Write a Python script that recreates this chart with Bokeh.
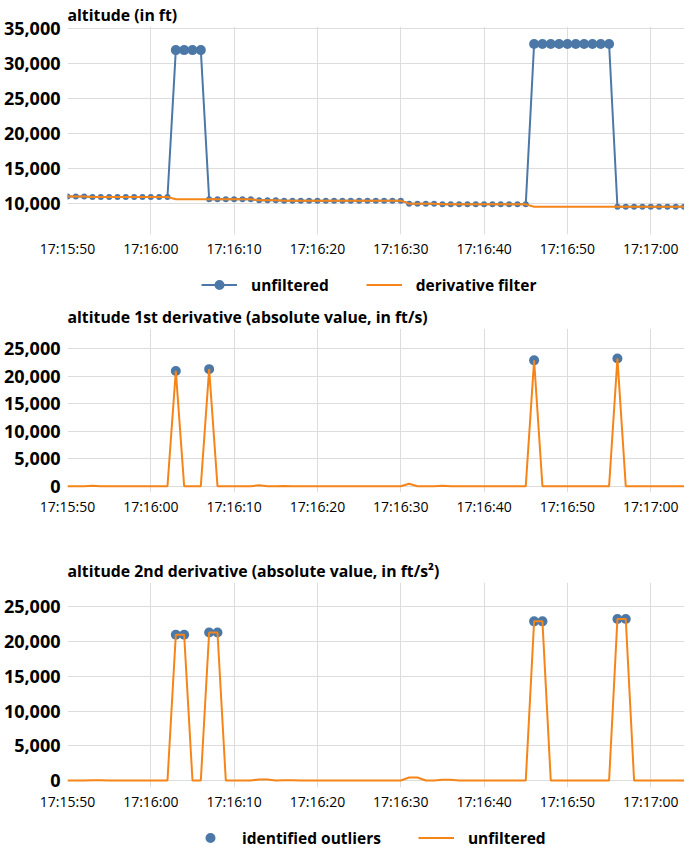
import pandas as pd
from bokeh.plotting import figure
from bokeh.layouts import column
from bokeh.models import (Legend, LegendItem, FixedTicker, NumeralTickFormatter,
                          DatetimeTickFormatter, Range1d, ColumnDataSource)
from bokeh.embed import file_html
from bokeh.resources import INLINE

# ---------------- data ----------------
start_time = "2021-06-01 17:15:50"
n_samples = 75  # one sample per second

altitude_unfiltered = [
    10960, 10960, 10960, 10900, 10900, 10900, 10900, 10900, 10900, 10900,
    10900, 10900, 10900, 31880, 31880, 31880, 31880, 10580, 10580, 10580,
    10580, 10580, 10580, 10420, 10420, 10420, 10380, 10380, 10380, 10380,
    10380, 10380, 10380, 10380, 10380, 10380, 10380, 10380, 10380, 10380,
    10380, 9950, 9950, 9950, 9950, 9850, 9850, 9850, 9850, 9850,
    9850, 9850, 9850, 9850, 9850, 9850, 32750, 32750, 32750, 32750,
    32750, 32750, 32750, 32750, 32750, 32750, 9500, 9500, 9500, 9500,
    9500, 9500, 9500, 9500, 9500,
]

altitude_derivative_filter = [
    10960, 10960, 10960, 10900, 10900, 10900, 10900, 10900, 10900, 10900,
    10900, 10900, 10900, 10580, 10580, 10580, 10580, 10580, 10580, 10580,
    10580, 10580, 10580, 10420, 10420, 10420, 10380, 10380, 10380, 10380,
    10380, 10380, 10380, 10380, 10380, 10380, 10380, 10380, 10380, 10380,
    10380, 9950, 9950, 9950, 9950, 9850, 9850, 9850, 9850, 9850,
    9850, 9850, 9850, 9850, 9850, 9850, 9500, 9500, 9500, 9500,
    9500, 9500, 9500, 9500, 9500, 9500, 9500, 9500, 9500, 9500,
    9500, 9500, 9500, 9500, 9500,
]

first_derivative = [
    0, 0, 0, 60, 0, 0, 0, 0, 0, 0,
    0, 0, 0, 20980, 0, 0, 0, 21300, 0, 0,
    0, 0, 0, 160, 0, 0, 40, 0, 0, 0,
    0, 0, 0, 0, 0, 0, 0, 0, 0, 0,
    0, 430, 0, 0, 0, 100, 0, 0, 0, 0,
    0, 0, 0, 0, 0, 0, 22900, 0, 0, 0,
    0, 0, 0, 0, 0, 0, 23250, 0, 0, 0,
    0, 0, 0, 0, 0,
]

second_derivative = [
    0, 0, 0, 60, 60, 0, 0, 0, 0, 0,
    0, 0, 0, 20980, 20980, 0, 0, 21300, 21300, 0,
    0, 0, 0, 160, 160, 0, 40, 40, 0, 0,
    0, 0, 0, 0, 0, 0, 0, 0, 0, 0,
    0, 430, 430, 0, 0, 100, 100, 0, 0, 0,
    0, 0, 0, 0, 0, 0, 22900, 22900, 0, 0,
    0, 0, 0, 0, 0, 0, 23250, 23250, 0, 0,
    0, 0, 0, 0, 0,
]

altitude_outlier_idx = [13, 14, 15, 16, 56, 57, 58, 59, 60, 61, 62, 63, 64, 65]
first_outlier_idx = [13, 17, 56, 66]
second_outlier_idx = [13, 14, 17, 18, 56, 57, 66, 67]

tick_labels = ["17:15:50", "17:16:00", "17:16:10", "17:16:20", "17:16:30",
               "17:16:40", "17:16:50", "17:17:00"]

# ---------------- helpers ----------------
BLUE = "#4c78a8"
ORANGE = "#f58518"
FONT = "Open Sans"
NAN = float("nan")

times = pd.date_range(start_time, periods=n_samples, freq="s")
day = start_time.split(" ")[0]
tick_ms = [pd.Timestamp(day + " " + t).value / 1e6 for t in tick_labels]
x_start = pd.Timestamp(start_time)
x_end = x_start + pd.Timedelta(seconds=74.05)


def subset(idx, values):
    return ColumnDataSource(dict(t=[times[i] for i in idx], v=[values[i] for i in idx]))


def make_fig(title, y0, y1, yticks, frame_h, top, bottom):
    p = figure(frame_width=617, frame_height=frame_h, x_axis_type="datetime",
               x_range=Range1d(x_start, x_end), y_range=Range1d(y0, y1),
               output_backend="svg", toolbar_location=None,
               min_border_left=60, min_border_right=0,
               min_border_top=top, min_border_bottom=bottom)
    p.title.text = title
    p.title.text_font = FONT
    p.title.text_font_size = "15.8px"
    p.title.text_font_style = "bold"
    p.title.text_color = "#000000"
    p.title.align = "left"
    p.title.offset = 0
    p.title.standoff = 2
    p.outline_line_color = None
    p.background_fill_color = "white"

    p.xaxis.ticker = FixedTicker(ticks=tick_ms)
    p.xaxis.formatter = DatetimeTickFormatter(
        seconds="%H:%M:%S", minsec="%H:%M:%S", minutes="%H:%M:%S",
        hourmin="%H:%M:%S", hours="%H:%M:%S", context=None)
    p.yaxis.ticker = FixedTicker(ticks=yticks)
    p.yaxis.formatter = NumeralTickFormatter(format="0,0")

    for ax in (p.xaxis, p.yaxis):
        ax.axis_line_color = None
        ax.major_tick_line_color = None
        ax.minor_tick_line_color = None
        ax.major_tick_out = 0
        ax.major_tick_in = 0
        ax.minor_tick_out = 0
        ax.major_label_text_font = FONT
        ax.major_label_text_color = "#000000"
    p.xaxis.major_label_text_font_size = "14px"
    p.xaxis.major_label_standoff = 4
    p.yaxis.major_label_text_font_size = "18px"
    p.yaxis.major_label_text_font_style = "bold"
    p.yaxis.major_label_standoff = 7

    p.xgrid.grid_line_color = "#dddddd"
    p.ygrid.grid_line_color = "#dddddd"
    return p


def make_legend_fig(entries, loc, height):
    """A strip holding a horizontal legend below a chart."""
    f = figure(frame_width=677, frame_height=height, x_range=Range1d(0, 1),
               y_range=Range1d(0, 1), output_backend="svg", toolbar_location=None,
               x_axis_location=None, y_axis_location=None,
               min_border_left=0, min_border_right=0, min_border_top=0, min_border_bottom=0)
    f.grid.visible = False
    f.outline_line_color = None
    items = []
    for label, kinds, color in entries:
        rs = []
        # legend-only renderers: a single undefined point, nothing drawn in the strip
        dummy = ColumnDataSource(dict(x=[NAN], y=[NAN]))
        if "line" in kinds:
            rs.append(f.line("x", "y", source=dummy, color=color, line_width=2))
        if "dot" in kinds:
            rs.append(f.scatter("x", "y", source=dummy, color=color, line_color=None, size=10))
        items.append(LegendItem(label=label, renderers=rs))
    lg = Legend(items=items, orientation="horizontal", location=loc)
    lg.border_line_color = None
    lg.background_fill_alpha = 0
    lg.label_text_font = FONT
    lg.label_text_font_size = "15.5px"
    lg.label_text_font_style = "bold"
    lg.label_text_color = "#000000"
    lg.glyph_width = 36
    lg.glyph_height = 25
    lg.label_standoff = 14
    lg.spacing = 37
    lg.padding = 0
    lg.margin = 0
    f.add_layout(lg)
    return f


# ---------------- chart 1: altitude ----------------
src_alt = ColumnDataSource(dict(t=times, raw=altitude_unfiltered, filt=altitude_derivative_filter))
normal_idx = [i for i in range(n_samples) if i not in altitude_outlier_idx]

p1 = make_fig("altitude (in ft)", 5545, 35250,
              [10000, 15000, 20000, 25000, 30000, 35000], 208, 21, 28)
p1.line("t", "raw", source=src_alt, color=BLUE, line_width=2)
p1.scatter("t", "v", source=subset(normal_idx, altitude_unfiltered),
           size=6, color=BLUE, line_color=None)
p1.scatter("t", "v", source=subset(altitude_outlier_idx, altitude_unfiltered),
           size=10, color=BLUE, line_color=None)
p1.line("t", "filt", source=src_alt, color=ORANGE, line_width=2)

leg1 = make_legend_fig([("unfiltered", ("line", "dot"), BLUE),
                        ("derivative filter", ("line",), ORANGE)], (201, 5), 40)

# ---------------- chart 2: 1st derivative ----------------
src_d1 = ColumnDataSource(dict(t=times, v=first_derivative))
p2 = make_fig("altitude 1st derivative (absolute value, in ft/s)", -1150, 28700,
              [0, 5000, 10000, 15000, 20000, 25000], 164, 23, 64)
p2.scatter("t", "v", source=subset(first_outlier_idx, first_derivative),
           size=10, color=BLUE, line_color=None)
p2.line("t", "v", source=src_d1, color=ORANGE, line_width=2)

# ---------------- chart 3: 2nd derivative ----------------
src_d2 = ColumnDataSource(dict(t=times, v=second_derivative))
p3 = make_fig("altitude 2nd derivative (absolute value, in ft/s\u00b2)", -1000, 28490,
              [0, 5000, 10000, 15000, 20000, 25000], 205, 20, 30)
p3.scatter("t", "v", source=subset(second_outlier_idx, second_derivative),
           size=10, color=BLUE, line_color=None)
p3.line("t", "v", source=src_d2, color=ORANGE, line_width=2)

leg3 = make_legend_fig([("identified outliers", ("dot",), BLUE),
                        ("unfiltered", ("line",), ORANGE)], (192, 3), 36)

layout = column(p1, leg1, p2, p3, leg3, spacing=0)
open("out.html", "w").write(file_html(layout, INLINE))
